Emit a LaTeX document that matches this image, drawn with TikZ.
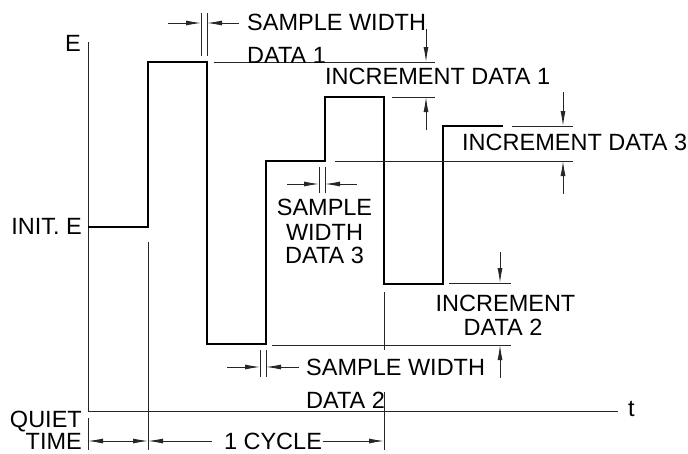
\documentclass[tikz,border=0pt]{standalone}
\usepackage{fontspec}
\setmainfont{Liberation Sans}
\usetikzlibrary{arrows.meta}
\begin{document}
\begin{tikzpicture}[x=1pt,y=-1pt,
  thin line/.style={line width=0.9pt,black!85},
  wave/.style={line width=1.9pt,black,line join=miter},
  arr/.style={thin line,-{Latex[length=15pt,width=5pt]}},
  lbl/.style={inner sep=0pt,font=\fontsize{23.5}{24}\selectfont}]
\useasboundingbox (0,0) rectangle (688,453);
% axes
\draw[thin line] (88,42) -- (88,411) -- (618,411);
\draw[thin line] (88,418) -- (88,450);
\node[lbl,anchor=base west] (lE) at (65,51) {E};
\node[lbl,anchor=base west] (lt) at (628,416) {t};
% waveform
\draw[wave] (88,227) -- (148,227) -- (148,62) -- (207,62) -- (207,344) -- (266,344)
  -- (266,161) -- (325,161) -- (325,97) -- (384,97) -- (384,284) -- (443,284)
  -- (443,126) -- (503,126);
\node[lbl,anchor=base east] (linit) at (82,234) {INIT. E};
% extension lines
\draw[thin line] (148,242) -- (148,450);
\draw[thin line] (384,292) -- (384,350);
\draw[thin line] (384,392) -- (384,450);
\draw[thin line] (214,62) -- (435,62);
\draw[thin line] (392,97) -- (435,97);
\draw[thin line] (512,126) -- (573,126);
\draw[thin line] (335,161) -- (573,161);
\draw[thin line] (449,283) -- (511,283);
\draw[thin line] (272,345) -- (511,345);
% sample width data 1
\draw[thin line] (201,13) -- (201,56);
\draw[thin line] (207,13) -- (207,56);
\draw[arr] (168,23) -- (201,23);
\draw[arr] (239,23) -- (207,23);
\node[lbl,anchor=base west] (sw1) at (247,30) {SAMPLE WIDTH};
\node[lbl,anchor=base west] (d1) at (247,63) {DATA 1};
% increment data 1
\draw[arr] (426,29) -- (426,62);
\draw[arr] (426,130) -- (426,97);
\node[lbl,anchor=base west] (inc1) at (325,84) {INCREMENT DATA 1};
% increment data 3
\draw[arr] (563,92) -- (563,126);
\draw[arr] (563,194) -- (563,161);
\node[lbl,anchor=base west] (inc3) at (462,150) {INCREMENT DATA 3};
% sample width data 3
\draw[thin line] (319,167) -- (319,193);
\draw[thin line] (325,167) -- (325,193);
\draw[arr] (287,184) -- (319,184);
\draw[arr] (357,184) -- (325,184);
\node[lbl,anchor=base] (sw3a) at (324.5,215) {SAMPLE};
\node[lbl,anchor=base] (sw3b) at (324.5,240) {WIDTH};
\node[lbl,anchor=base] (sw3c) at (324.5,263) {DATA 3};
% increment data 2
\draw[arr] (500,252) -- (500,283);
\draw[arr] (500,378) -- (500,345);
\node[lbl,anchor=base] (inc2a) at (505.5,311) {INCREMENT};
\node[lbl,anchor=base] (inc2b) at (503,335) {DATA 2};
% sample width data 2
\draw[thin line] (260,350) -- (260,377);
\draw[thin line] (266,350) -- (266,377);
\draw[arr] (227,367) -- (260,367);
\draw[arr] (299,367) -- (266,367);
\node[lbl,anchor=base west] (sw2) at (306,375) {SAMPLE WIDTH};
\node[lbl,anchor=base west] (d2) at (306,408) {DATA 2};
% quiet time and cycle
\node[lbl,anchor=base east,align=right,text depth=0pt,font=\fontsize{23.5}{22}\selectfont] (q1) at (82,449) {QUIET\\TIME};
\coordinate (qa) at (88,441);
\coordinate (qb) at (148,441);
\coordinate (cb) at (384,441);
\draw[thin line,{Latex[length=15pt,width=5pt]}-{Latex[length=15pt,width=5pt]}] (qa) -- (qb);
\node[lbl,anchor=base] (cyc) at (273,449) {1 CYCLE};
\draw[thin line,{Latex[length=15pt,width=5pt]}-] (qb) -- ([xshift=-12pt]cyc.west |- qb);
\draw[arr] ([xshift=1pt]cyc.east |- cb) -- (cb);
\end{tikzpicture}
\end{document}
